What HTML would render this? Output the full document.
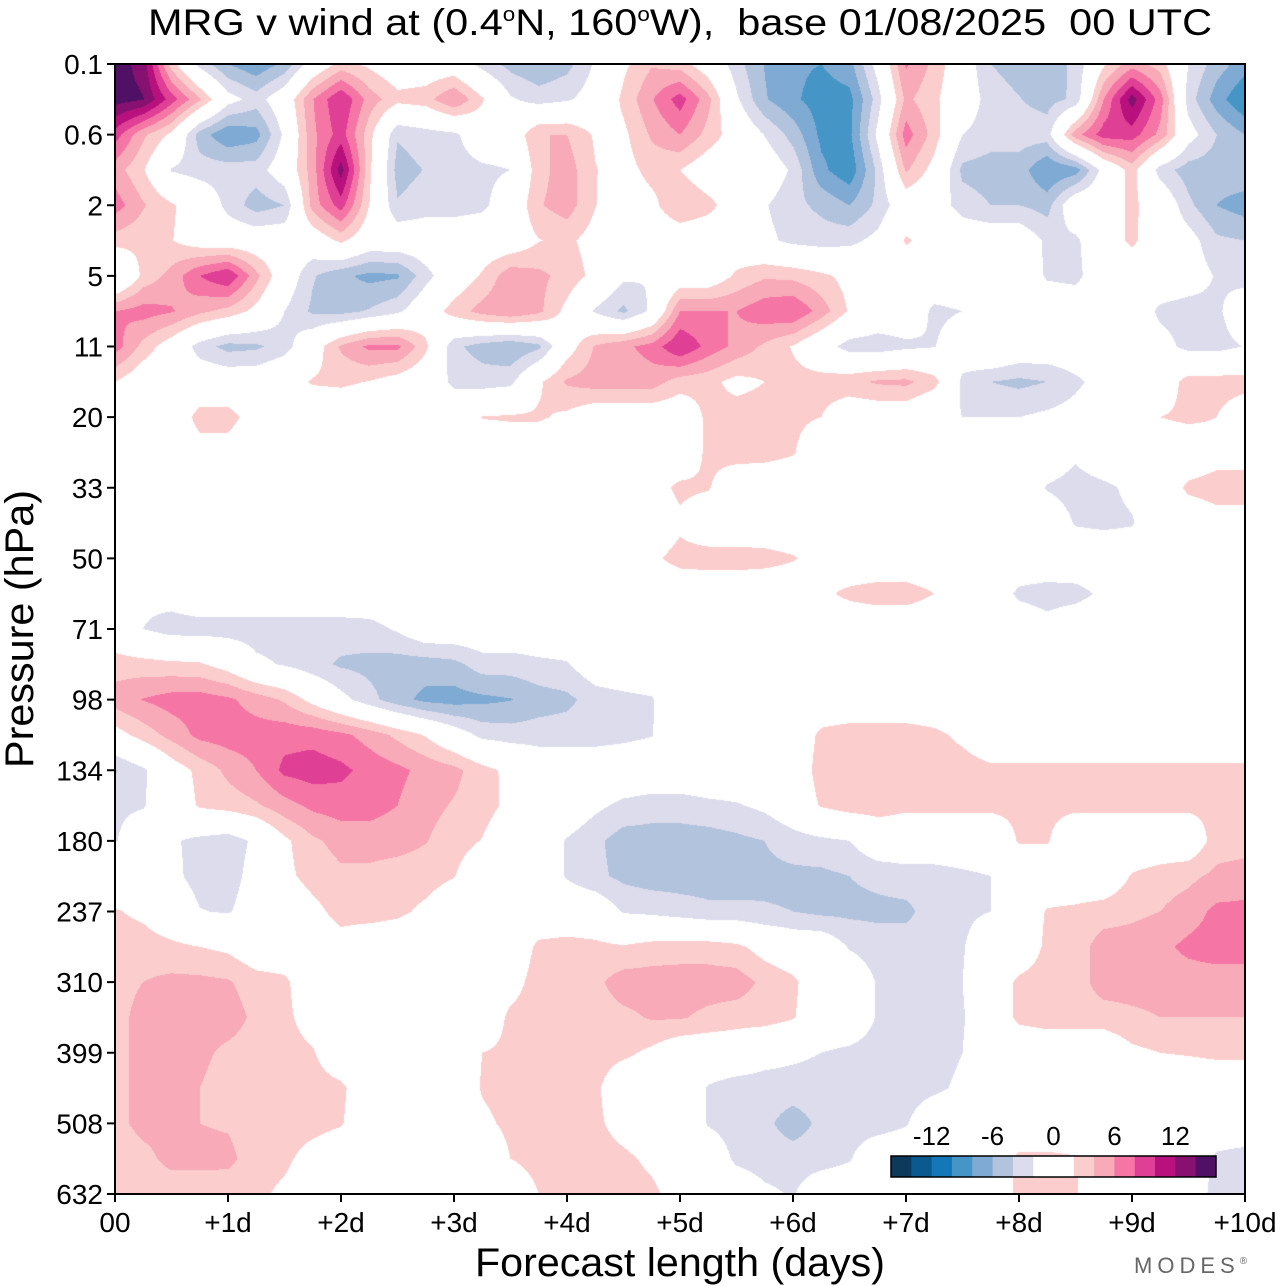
<!DOCTYPE html>
<html>
<head>
<meta charset="utf-8">
<style>
  html,body{margin:0;padding:0;background:#fff;}
  #wrap{position:relative;width:1280px;height:1286px;overflow:hidden;background:#fff;font-family:"Liberation Sans",sans-serif;}
  #field{position:absolute;left:115px;top:64px;}
  #overlay{position:absolute;left:0;top:0;}
</style>
</head>
<body>
<div id="wrap">
<canvas id="field" width="1130" height="1130"></canvas>
<svg id="overlay" width="1280" height="1286"></svg>
</div>
<script>
// ---- chart data ----
const dayLabels = ["00","+1d","+2d","+3d","+4d","+5d","+6d","+7d","+8d","+9d","+10d"];
const pressureLabels = ["0.1","0.6","2","5","11","20","33","50","71","98","134","180","237","310","399","508","632"];
const levelBounds = [-14,-12,-10,-8,-6,-4,-2,0,2,4,6,8,10,12,14];
const binColors = ["#0d3a5a","#0a5a90","#1477b8","#4596c6","#7eaad3","#b2c3dd","#dcdcec","#ffffff","#ffffff","#fbcdcc","#f8aab8","#f576a4","#e03f96","#b8117e","#861170","#501065"];
const cbarLabels = [-12,-6,0,6,12];
// grid: rows = half pressure-level steps (33), cols = 0.25 day steps (41); values m/s
const vwind = [
[15,13.2,3,-2.8,-6,-7.6,-5.5,-0.5,2.7,1.5,0,0,0,-2.8,-4.7,-5.8,-4.7,-1.7,1.5,3.8,3,0.3,-3.2,-6.1,-7.6,-8,-6.7,-1,6.3,3.4,-0.2,-4,-4.9,-5,-3.6,1.6,5,3,-2,-5,-7],
[15,14.1,9,4.3,-1,-3,0,5.9,10,5.1,2.7,3.2,6,2.3,-1.7,-2.9,-2.3,-0.8,2.5,5.8,9,4.6,-1.6,-5.8,-7.6,-9,-8.7,-3,4.5,2.5,-0.2,-3,-3.9,-4.8,-3.6,6,13,7,-3,-7,-10],
[9,4.4,1.5,-5,-7.7,-6.8,-1.5,5.5,9,2.8,-3.8,-3,-2.5,0,0,4,4,1.7,1.5,4.3,6,3.3,0.6,-2.1,-4.8,-8.5,-8.5,-1.4,7,3.1,-2,-3,-3,-2.9,5.2,9,9,5.4,-0.9,-4,-6],
[5,2.2,-2.2,-3,-3,-3,-0.3,5,13,2.5,-4.8,-3.9,-3,-2.5,-2,3.3,5,2.1,1,2.8,2,0.2,0,0,-2.4,-7.5,-9.5,-3.5,4.3,1.1,-4.5,-5,-5,-8,-7,-1,3,-3,-5,-5,-4.5],
[7,4.2,2.3,0.5,-2.7,-5,-4,4.9,9,2,-3.8,-3,-3,-2.5,-0.4,3.8,5,2.1,0,1.3,4,2.7,0.5,-1.8,-3.4,-4.5,-6,-3.5,0,-0.5,-3,-4,-4,-4.8,0.4,0.5,2.5,0.5,-3.5,-6,-7],
[3,2.5,2.1,0.5,0,0,0,0,2.5,0,0,0,0,0,0,1.9,2.5,1,0,0,0,0,0,-1.4,-2.6,-3,-2.6,-1.3,2.3,1,0,0,0,-2.5,-2.5,0.4,2.5,0,-0.9,-3.6,-4],
[-2.5,2.6,4.7,8,10,4.6,0,-3.8,-5.5,-6.6,-6.3,-2.8,0,2.3,5.3,4.5,3.3,1.3,-1.5,-2,0,0,2.4,3.7,3.4,2.5,1.2,0,0,0,0,0,0,-2.3,-2.7,0,0,0,-0.6,-2.2,-3],
[6,6.9,6.2,4.5,3.3,1.3,-2,-4.4,-4.7,-3.8,-2.5,0.2,3,4.8,5.8,4.5,1.3,-2.3,-4.5,-1.5,6,6,6,7.4,8,5.1,1.7,0,0,-2.5,-2,0,0,0,0,0,0,-2.5,-3,-2.5,0],
[7,3.3,0.5,-3,-4.7,-4.4,-3,0.5,4.3,6.5,6.5,2.5,-3.5,-4.9,-5.8,-4.5,0.7,4.2,5.5,6.8,10,7.3,5.4,3.6,1.8,-0.7,-3,-3.2,-2.5,-2.1,-0.3,1.5,0.2,0,0,0,0,-1,-2.7,-2.8,-1.9],
[2,0,0,0,0,0,1,2.2,2.4,1.9,0.8,-0.2,-2.5,-3,-2.6,1.6,4.3,5,5,5,3,2.6,1.3,2,2.8,3,3.4,4.3,4.5,2.9,-2.5,-4,-4.5,-4,-2.5,-1,0,0,3,3,3],
[0,0,0,2.8,2.8,0.9,0,0,0,0,0,0,0,2.1,2.3,2.3,1.5,0,0,0,0,2.5,3,3,2.5,2,0,0,0,-1.5,-2,-2,-2,-1.5,-1,0,0,2,2.5,2,0],
[0,0,0,1,1,0,0,0,0,0,0,0,0,0,0,0,0,0,0,0,0,2.5,3,2.8,2.2,0,0,0,0,0,0,0,0,0,-1.5,0,0,0,0,1,1],
[0,0,0,0,0,0,0,0,0,0,0,0,0,0,0,0,0,0,0,1,2.5,2.2,0,0,0,0,0,0,0,0,0,0,0,-2.2,-3,-2.5,-1.5,0,2.5,3,3],
[0,0,0,0,0,0,0,0,0,0,0,0,0,0,0,0,0,0,0,0,1.5,0,0,0,0,0,0,0,0,0,0,0,0,0,-2.2,-2.5,-2.2,0,0,1,1],
[0,0,0,0,0,0,0,0,0,0,0,0,0,0,0,0,0,0,0,1.5,2.8,3,3,2.8,2.2,1,0,0,0,0,0,0,0,0,0,0,0,0,0,0,0],
[0,-1.5,-1,0,0,0,0,0,0,0,0,0,0,0,0,0,0,0,0,0,0,0,0,0,0,1.5,2.5,3,3,2,0,0,-2.5,-3,-2.8,-1.5,0,0,0,0,0],
[0,-2,-3,-3,-3,-3,-3,-3,-3,-2.8,-1.7,0,0,0,0,0,0,0,0,0,0,0,0,0,0,0,0,0,0,0,0,0,0,-1,0,0,0,0,0,0,0],
[3,2.8,2.5,2.3,0.9,-1.5,-2.2,-3.3,-4.3,-4.6,-5,-5,-4.6,-3,-3,-2.5,-2.2,-0.3,0,0,0,0,0,0,0,0,0,0,0,0,0,0,0,0,0,0,0,0,0,0,0],
[5,6.1,6.9,7,6.4,5.1,3.7,1.2,-1.2,-3.3,-5.2,-6.6,-6.9,-6.5,-6.1,-5,-4.5,-3.1,-2.6,-2.2,0,0,0,0,0,0,0,0,0,0,0,0,0,0,0,0,0,0,0,0,0],
[1,2.9,4.7,6.6,7,7,7.3,7.3,6.5,5.2,3.5,1.8,-0.5,-2.6,-3,-3,-3,-3,-2.6,-2.1,0,0,0,0,0,2.5,3,3,3,2.5,1.5,0,0,0,0,0,0,0,0,0,0],
[-4.2,-2.4,0.6,2.6,4.5,6,8.5,9,8.5,7.3,6.5,5.4,4.6,2.8,1.4,0,0,0,0,0,0,0,0,0,0,3,3,3,3,3,3,2.5,2.5,2.5,2.5,2.5,2.5,2.5,2.5,2.5,2.5],
[-2.5,-2.2,0,2.3,2.9,3.7,5.2,6.5,7,6.8,6,4.7,3.8,2.9,1.4,0,0,-1.5,-2.5,-3,-3,-2.5,-2.2,-1.5,0,2.2,3,3,2.5,2.5,2.5,2.5,2.5,2.5,2.5,2.5,2.5,2.5,2.5,2.5,3],
[-2.2,0,-1.7,-2.6,-3.2,-1.5,1.5,3.6,4.7,5,4.8,4.1,2.9,1.9,0,0,-2.2,-3.5,-5,-5,-5,-5,-4.5,-4,-3,-2.5,-2,0,0,0,0,0,2.2,2.2,0,0,0,0,0,3,3],
[0,0,-1.4,-2.8,-3,-1,1.4,2.8,3.6,3.4,3,2.9,2.1,0,0,0,-2.2,-3.5,-4.5,-5,-5,-5,-5,-4.5,-4.5,-4.5,-4,-3.5,-3,-3,-2.5,-2,0,0,0,0,2.2,3,3.5,4.5,5],
[2.2,1.5,0,-1.9,-2.2,-0.7,0,1.3,2.8,3,2.5,1.5,0,0,0,0,0,0,-2.2,-2.5,-3,-3.5,-3.5,-3.8,-4,-4.5,-4.5,-4.5,-4.5,-3,-2.5,-2,0,2.2,2.5,3,3.5,4,5,6.5,6.5],
[3,3,2.5,2,1.5,0,0,0,1,0,0,0,0,0,0,2.5,2.8,2.5,2.2,2.8,3,3,2.5,1,0,0,-2.2,-3,-3,-3,-2.2,0,0,2.5,3,5,5,5.5,6.5,7,7],
[3.5,4,4.5,4.5,4.2,3,2.5,0,0,0,0,0,0,0,1,3,3,3.5,5,5,5,5,5,3.5,2.5,0,0,-2.2,-3,-3,-2,0,2.5,3,3,5,5,5,5,5,5],
[3.5,4.5,5,5,5,3.5,2.5,1,0,0,0,0,0,0,2.5,3,3,3,3.5,4.2,4.2,3.5,3,3,2.2,0,0,-2.2,-3,-3,-2.2,0,2.5,3,3,3,3.5,4,4,4,4],
[3.5,4.5,5,4.5,3.5,3,2.8,2.2,0,0,0,0,0,2,2.5,3,3,3,2.5,1.5,0,0,0,-1,-1.5,-2,-2.5,-3,-3,-3,-2,0,0,0,0,0,1.5,2,2.2,2.5,2.5],
[3.5,4.5,5,4,3,3,3,3,2.5,0,0,0,0,2.2,2.8,3,2.8,2.5,0,0,0,-2.2,-3,-3,-3,-3,-3,-3,-3,-2.5,-1.5,0,0,0,0,0,0,0,0,0,0],
[3.5,4.5,4.5,4,3.8,3,3,2.8,2.2,0,0,0,0,1.5,2.5,3,2.8,2.5,1,0,0,-2.2,-3,-3.5,-5,-3.5,-3,-3,-2.2,0,0,0,0,0,0,0,0,0,0,0,0],
[3,3.5,4.5,4.5,4.5,3,2.5,1,0,0,0,0,0,0,2,2.8,3,3,2.5,1.5,0,0,-2.5,-3,-3,-3,-2.2,0,0,0,0,0,2.5,2.5,2.2,0,0,0,0,-2.5,-3],
[2,3,3,3,2.8,2.5,1.5,0,0,0,0,0,0,0,0,2,3,3,3,2.5,1,0,0,-1.5,-2.2,0,0,0,0,0,0,0,2.5,2.5,2.2,0,0,0,0,-3,-3]
];

// ---- geometry ----
const PL = 115, PT = 64, PW = 1130, PH = 1130;
const nCols = vwind[0].length, nRows = vwind.length;
function xOfDay(d){ return PL + d / 10 * PW; }
function yOfLevel(i){ return PT + i / (pressureLabels.length - 1) * PH; }
function hexToRgb(h){ return [parseInt(h.substr(1,2),16),parseInt(h.substr(3,2),16),parseInt(h.substr(5,2),16)]; }
const rgbBins = binColors.map(hexToRgb);

// ---- draw field ----
(function(){
  const cv = document.getElementById('field');
  const ctx = cv.getContext('2d');
  const img = ctx.createImageData(PW, PH);
  const d = img.data;
  for (let py = 0; py < PH; py++){
    const gy = (py + 0.5) / PH * (nRows - 1);
    let r0 = Math.floor(gy); if (r0 >= nRows - 1) r0 = nRows - 2;
    const fy = gy - r0;
    const A = vwind[r0], B = vwind[r0 + 1];
    for (let px = 0; px < PW; px++){
      const gx = (px + 0.5) / PW * (nCols - 1);
      let c0 = Math.floor(gx); if (c0 >= nCols - 1) c0 = nCols - 2;
      const fx = gx - c0;
      const v = (A[c0]*(1-fx) + A[c0+1]*fx)*(1-fy) + (B[c0]*(1-fx) + B[c0+1]*fx)*fy;
      let b = 0;
      while (b < levelBounds.length && v >= levelBounds[b]) b++;
      const c = rgbBins[b];
      const i = (py * PW + px) * 4;
      d[i] = c[0]; d[i+1] = c[1]; d[i+2] = c[2]; d[i+3] = 255;
    }
  }
  ctx.putImageData(img, 0, 0);
})();

// ---- axes ----
(function(){
  const NS = 'http://www.w3.org/2000/svg';
  const svg = document.getElementById('overlay');
  function mk(tag, attrs, parent){
    const e = document.createElementNS(NS, tag);
    for (const k in attrs) e.setAttribute(k, attrs[k]);
    (parent || svg).appendChild(e);
    return e;
  }
  const title = mk('text', {x: 148, y: 35, 'font-size': 37, fill: '#000', textLength: 1064, lengthAdjust: 'spacingAndGlyphs'});
  
  
  title.style.whiteSpace = 'pre';
  title.innerHTML = 'MRG v wind at (0.4<tspan dy="-14" font-size="20">o</tspan><tspan dy="14">N, 160</tspan><tspan dy="-14" font-size="20">o</tspan><tspan dy="14">W),  base 01/08/2025  00 UTC</tspan>';

  const frame = mk('rect', {x: PL, y: PT, width: PW, height: PH, fill: 'none', stroke: '#000', 'stroke-width': 2});
  
  

  const yg = mk('g', {});
  
  
  pressureLabels.forEach((lab, i) => {
    const y = yOfLevel(i);
    const t = mk('line', {x1: PL - 8, x2: PL, y1: y, y2: y, stroke: '#000', 'stroke-width': 2}, yg);
    
    
    const tx = mk('text', {x: PL - 12, y: y + 10, 'text-anchor': 'end', 'font-size': 28, fill: '#000'}, yg);
    
    
    tx.textContent = lab;
  });
  const yt = mk('text', {x: 0, y: 0, 'text-anchor': 'middle', 'font-size': 40, fill: '#000', transform: 'translate(33,629) rotate(-90)', textLength: 278, lengthAdjust: 'spacingAndGlyphs'});
  
  
  yt.textContent = 'Pressure (hPa)';

  const xg = mk('g', {});
  
  
  dayLabels.forEach((lab, i) => {
    const x = xOfDay(i);
    const t = mk('line', {x1: x, x2: x, y1: PT + PH, y2: PT + PH + 8, stroke: '#000', 'stroke-width': 2}, xg);
    
    
    const tx = mk('text', {x: x, y: 1232, 'text-anchor': 'middle', 'font-size': 28, fill: '#000'}, xg);
    
    
    tx.textContent = lab;
  });
  const xt = mk('text', {x: 475, y: 1276, 'font-size': 40, fill: '#000', textLength: 410, lengthAdjust: 'spacingAndGlyphs'});
  
  
  xt.textContent = 'Forecast length (days)';

  const cb = mk('g', {});
  
  
  const cbx = 891, cby = 1156, cbw = 325, cbh = 21;
  const bw = cbw / binColors.length;
  binColors.forEach((c, i) => {
    const r = mk('rect', {x: cbx + i * bw, y: cby, width: bw + 0.5, height: cbh, fill: c}, cb);
    
    
  });
  const cbf = mk('rect', {x: cbx, y: cby, width: cbw, height: cbh, fill: 'none', stroke: '#000', 'stroke-width': 1.5}, cb);
  
  
  cbarLabels.forEach(v => {
    const idx = levelBounds.indexOf(v) + 1;
    const x = cbx + idx * bw;
    const tx = mk('text', {x: x, y: 1145, 'text-anchor': 'middle', 'font-size': 26, fill: '#000'}, cb);
    
    
    tx.textContent = String(v);
  });

  const m = mk('text', {x: 1134, y: 1273, 'font-size': 22, fill: '#666', 'letter-spacing': 5});
  
  
  m.innerHTML = 'MODES<tspan dy="-9" font-size="10" letter-spacing="0">®</tspan>';
})();
</script>
</body>
</html>
